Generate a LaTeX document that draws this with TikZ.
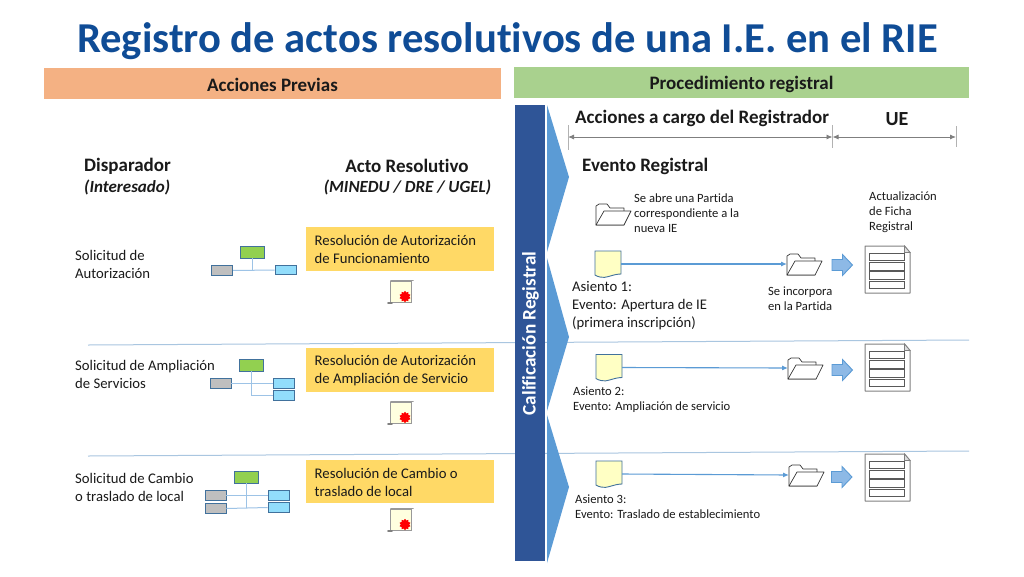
\documentclass[tikz,border=0pt]{standalone}
\usepackage{fontspec}
\setmainfont{Carlito}[Ligatures=NoCommon]
\usetikzlibrary{shapes.geometric,arrows.meta}
\definecolor{titleblue}{HTML}{0F4C96}
\definecolor{bandor}{HTML}{F4B183}
\definecolor{bandgr}{HTML}{A9D18E}
\definecolor{navy}{HTML}{2F5597}
\definecolor{chev}{HTML}{5B9BD5}
\definecolor{resbox}{HTML}{FFD966}
\definecolor{sep}{HTML}{A9C6E0}
\definecolor{orggreen}{HTML}{92D050}
\definecolor{orggray}{HTML}{BFBFBF}
\definecolor{orgblue}{HTML}{92DDFB}
\definecolor{orgedge}{HTML}{41719C}
\definecolor{orgline}{HTML}{9DC3E6}
\definecolor{docfill}{HTML}{FFFFC4}
\definecolor{arrowfill}{HTML}{8DB9E6}
\definecolor{dimgray}{HTML}{7F7F7F}
\definecolor{txt}{HTML}{1A1A1A}
\tikzset{
  x=1pt,y=-1pt,
  lbl/.style={inner sep=0,anchor=west,align=left,text=txt},
  hd/.style={inner sep=0,text=txt,font=\fontsize{19}{22}\selectfont\bfseries},
  hdi/.style={inner sep=0,text=txt,font=\fontsize{17}{20}\selectfont\bfseries\itshape},
  t14/.style={lbl,font=\fontsize{14.7}{18}\selectfont},
  t12/.style={lbl,font=\fontsize{12.6}{15}\selectfont},
  band/.style={inner sep=0,minimum height=31,text=txt,font=\fontsize{19}{22}\selectfont\bfseries},
  orgb/.style={draw=orgedge,line width=.9,inner sep=0,minimum width=21,minimum height=9.5},
  orgtop/.style={draw=orgedge,line width=.9,fill=orggreen,inner sep=0,minimum width=24,minimum height=12},
  orggr/.style={orgb,fill=orggray},
  orgbl/.style={orgb,fill=orgblue},
  orglink/.style={draw=orgline,line width=1},
  res/.style={fill=resbox,inner sep=0,minimum width=188,minimum height=44},
  sepline/.style={draw=sep,line width=1},
  chevron/.style={fill=chev,draw=none},
  dimline/.style={draw=dimgray,line width=.9,{Latex[length=6,width=5]}-{Latex[length=6,width=5]}},
  dimtick/.style={draw=dimgray!60,line width=.8},
  flow/.style={draw=chev,line width=1.1,-{Latex[length=6,width=5]}},
  folder/.pic={
    \coordinate (-w) at (-17,0);
    \draw[line width=.7,draw=black!80,fill=white,line join=round] (-17,-8) -- (-17,11) -- (11,11) -- (11,-6) -- (-3,-6) -- (-6,-10) -- (-14,-10) -- cycle;
    \draw[line width=.7,draw=black!80,fill=white,line join=round] (-17,11) -- (-9,-3) -- (18,-3) -- (11,11) -- cycle;
  },
  doc/.pic={
    \draw[draw=orgedge,line width=.9,fill=docfill] (-13,-13) -- (13,-13) -- (13,10) .. controls (5,10) and (-3,15) .. (-8,13) .. controls (-10,12.5) and (-12,12) .. (-13,11) -- cycle;
    \coordinate (-e) at (13,0);
  },
  formsheet/.pic={
    \draw[draw=gray,line width=1,fill=white,line join=round] (-22.5,-23.5) -- (17,-23.5) -- (22.5,-17) -- (22.5,23.5) -- (-22.5,23.5) -- cycle;
    \draw[draw=gray,line width=.8,fill=gray!25] (17,-23.5) -- (17,-17) -- (22.5,-17) -- cycle;
    \foreach \yy in {-16.5,-7,2,11.5}
      \draw[line width=.8,draw=black!65,fill=white] (-18,\yy) rectangle (17,\yy+7.5);
  },
  scrollic/.pic={
    \draw[draw=gray!80,line width=1,fill=docfill!55] (-10,-10.5) -- (11,-10.5) -- (11,11) -- (-10,11) -- cycle;
    \draw[draw=gray!80,line width=1.6,line cap=round] (-9,-11) -- (13,-11);
    \draw[draw=gray,line width=1.6,line cap=round] (-12,11.5) -- (-8,11.5);
    \node[star,star points=10,star point ratio=1.35,fill=red,inner sep=0,minimum size=11.5] at (5,5) {};
  },
  blockarr/.pic={
    \draw[draw=chev,line width=.9,fill=arrowfill,line join=miter] (-10,-5.5) -- (0.5,-5.5) -- (0.5,-10.5) -- (10.5,0) -- (0.5,10.5) -- (0.5,5.5) -- (-10,5.5) -- cycle;
  }
}
\begin{document}
\begin{tikzpicture}
\useasboundingbox (0,0) rectangle (1024,576);
\fill[white] (0,0) rectangle (1024,576);

% title
\node[inner sep=0,text=titleblue,font=\fontsize{42.6}{46}\selectfont\bfseries] (title) at (507.5,41) {Registro de actos resolutivos de una I.E. en el RIE};

% bands
\node[band,fill=bandor,minimum width=457] (prev) at (272.5,83.5) {};
\node[inner sep=0,text=txt,font=\fontsize{19}{22}\selectfont\bfseries] (prevt) at (272.5,84.5) {Acciones Previas};
\node[band,fill=bandgr,minimum width=455] (proc) at (741.5,82.5) {};
\node[inner sep=0,text=txt,font=\fontsize{19}{22}\selectfont\bfseries] (proct) at (741.5,84) {Procedimiento registral};

% separators
\draw[sepline] (88,345) -- (969,340);
\draw[sepline] (88,456) -- (969,451);

% side bar and chevrons
\fill[chevron] (547,105) -- (569,177) -- (547,252) -- cycle;
\fill[chevron] (547,258) -- (569,337) -- (547,411) -- cycle;
\fill[chevron] (547,415) -- (569,487) -- (547,563) -- cycle;
\node[fill=navy,inner sep=0,minimum width=30,minimum height=456,anchor=north west] (bar) at (515,105) {};
\node[rotate=90,inner sep=0,text=white,font=\fontsize{19.2}{22}\selectfont\bfseries] (cal) at (530.5,333.5) {Calificación Registral};

% column heads
\node[hd,anchor=west] (disp) at (84,166) {Disparador};
\node[hdi,anchor=west] (inter) at (84,187.5) {(Interesado)};
\node[hd] (acto) at (407,166) {Acto Resolutivo};
\node[hdi] (minedu) at (407.5,187.5) {(MINEDU / DRE / UGEL)};

\node[hd,anchor=west] (acc) at (575,118) {Acciones a cargo del Registrador};
\node[hd,font=\fontsize{20}{22}\selectfont\bfseries] (ue) at (897,119) {UE};
\node[hd,anchor=west] (evreg) at (582,166) {Evento Registral};

% dimension lines
\coordinate (d1) at (568,137);
\coordinate (d2) at (832.5,137);
\coordinate (d3) at (956,137);
\draw[dimline] (d1) -- (d2);
\draw[dimline] (d2) -- (d3);
\draw[dimtick] (568,125) -- (568,150);
\draw[dimtick] (832.5,125) -- (832.5,148);
\draw[dimtick] (956,126) -- (956,147);

% left texts
\node[t14] (s1) at (75,264.5) {Solicitud de\\Autorización};
\node[t14] (s2) at (75,374.5) {Solicitud de Ampliación\\de Servicios};
\node[t14] (s3) at (75,487.5) {Solicitud de Cambio\\o traslado de local};

% resolution boxes
\node[res] (r1) at (400,249) {};
\node[t14] (r1t) at (314.5,249.5) {Resolución de Autorización\\de Funcionamiento};
\node[res] (r2) at (400,370) {};
\node[t14] (r2t) at (314.5,370.5) {Resolución de Autorización\\de Ampliación de Servicio};
\node[res,minimum height=43] (r3) at (400,481.5) {};
\node[t14] (r3t) at (314.5,482) {Resolución de Cambio o\\traslado de local};

% org chart 1
\node[orgtop] (g1) at (252,252) {};
\node[orggr] (a1) at (221.5,270.5) {};
\node[orgbl] (b1) at (285.5,270) {};
\draw[orglink] (a1) -- (b1);
\draw[orglink] (g1.south) -- (g1.south |- a1.east);
\node[orggr] at (221.5,270.5) {};
\node[orgbl] at (285.5,270) {};

% org chart 2
\node[orgtop] (g2) at (251,365) {};
\node[orggr] (a2) at (220.5,383.5) {};
\node[orgbl] (b2) at (283.5,383.5) {};
\node[orgbl] (c2) at (283.5,395.5) {};
\draw[orglink] (a2.east) -- (b2.west);
\draw[orglink] (g2.south) |- (c2.west);

% org chart 3
\node[orgtop] (g3) at (246,477) {};
\node[orggr] (a3) at (215.5,495.5) {};
\node[orggr] (e3) at (215.5,508.5) {};
\node[orgbl] (b3) at (278.5,495.5) {};
\node[orgbl] (c3) at (278.5,507.5) {};
\draw[orglink] (a3.east) -- (b3.west);
\draw[orglink] (e3.east) -- (c3.west);
\draw[orglink] (g3.south) -- (g3.south |- c3.west);

% scrolls
\pic at (400,291.5) {scrollic};
\pic at (400,412.5) {scrollic};
\pic at (400,519.5) {scrollic};

% first folder and note
\pic (f0) at (613,214) {folder};
\node[t12] (n0) at (634,213.5) {Se abre una Partida\\correspondiente a la\\nueva IE};
\node[t12] (n1) at (869,212.5) {Actualización\\de Ficha\\Registral};

% rows on the right
\pic (d1i) at (608,264) {doc};
\pic (f1) at (804,264) {folder};
\draw[flow] (d1i-e) -- (f1-w);
\pic (d2i) at (609,367.5) {doc};
\pic (f2) at (805,368) {folder};
\draw[flow] (d2i-e) -- (f2-w);
\pic (d3i) at (609,474) {doc};
\pic (f3) at (806,475) {folder};
\draw[flow] (d3i-e) -- (f3-w);

\pic at (842,265) {blockarr};
\pic at (842,370) {blockarr};
\pic at (841.5,477) {blockarr};

\pic at (887.5,269.5) {formsheet};
\pic at (887.5,367.5) {formsheet};
\pic at (887.5,477.5) {formsheet};

% right texts
\node[t14] (as1) at (572,305.5) {Asiento 1:\\Evento: Apertura de IE\\(primera inscripción)};
\node[t12] (inc) at (768,298.5) {Se incorpora\\en la Partida};
\node[t12] (as2) at (573,400) {Asiento 2:\\Evento: Ampliación de servicio};
\node[t12] (as3) at (575,507) {Asiento 3:\\Evento: Traslado de establecimiento};
\end{tikzpicture}
\end{document}
